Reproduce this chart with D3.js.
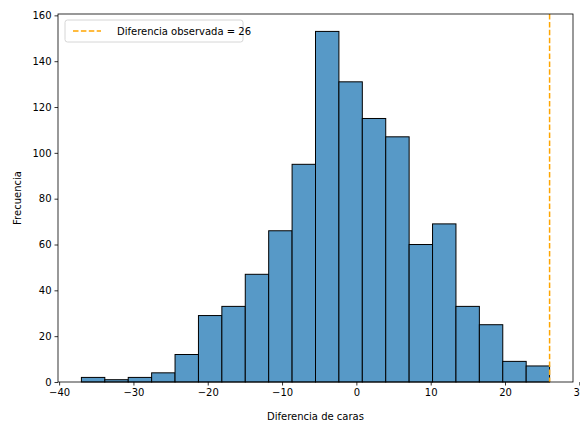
<!DOCTYPE html>
<html>
<head>
<meta charset="utf-8">
<script src="https://cdn.jsdelivr.net/npm/d3@7"></script>
<style>
body { margin: 0; background: #fff; }
text { font-family: "DejaVu Sans", sans-serif; }
</style>
</head>
<body>
<svg width="580" height="436"></svg>
<script>
// histogram of simulated differences
var binStart = -37, binEnd = 26;
var counts = [2, 1, 2, 4, 12, 29, 33, 47, 66, 95, 153, 131, 115, 107, 60, 69, 33, 25, 9, 7];
var observed = 26;
var xTicks = [-40, -30, -20, -10, 0, 10, 20, 30];
var yTicks = [0, 20, 40, 60, 80, 100, 120, 140, 160];

var plotLeft = 58, plotRight = 573, plotTop = 14, plotBottom = 382;
var svg = d3.select("svg");
var binWidth = (binEnd - binStart) / counts.length;

var x = d3.scaleLinear().domain([-40.15, 29.15]).range([plotLeft, plotRight]);
var y = d3.scaleLinear().domain([0, 160.6]).range([plotBottom, plotTop]);

// bars
svg.selectAll("rect.bar")
	.data(counts)
	.enter()
	.append("rect")
	.attr("class", "bar")
	.attr("x", function(d, i) { return x(binStart + i * binWidth); })
	.attr("y", function(d) { return y(d); })
	.attr("width", function() { return x(binWidth) - x(0); })
	.attr("height", function(d) { return y(0) - y(d); })
	.attr("fill", "#5799c7")
	.attr("stroke", "#000")
	.attr("stroke-width", 1);

// observed difference line
svg.append("line")
	.attr("x1", x(observed)).attr("x2", x(observed))
	.attr("y1", plotTop).attr("y2", plotBottom)
	.attr("stroke", "orange")
	.attr("stroke-width", 1.5)
	.attr("stroke-dasharray", "5.5,2.4");

// frame
svg.append("rect")
	.attr("x", plotLeft).attr("y", plotTop)
	.attr("width", plotRight - plotLeft).attr("height", plotBottom - plotTop)
	.attr("fill", "none").attr("stroke", "#000").attr("stroke-width", 0.8);

// axes
var xAxis = svg.append("g")
	.attr("transform", "translate(0," + plotBottom + ")")
	.call(d3.axisBottom(x).tickValues(xTicks).tickSize(3.5).tickPadding(3)
		.tickFormat(function(d) { return d < 0 ? "\u2212" + Math.abs(d) : d; }));
var yAxis = svg.append("g")
	.attr("transform", "translate(" + plotLeft + ",0)")
	.call(d3.axisLeft(y).tickValues(yTicks).tickSize(3.5).tickPadding(3));
[xAxis, yAxis].forEach(function(g) {
	g.select(".domain").remove();
	g.selectAll("text").attr("font-size", 10).attr("fill", "#000")
		.style("font-family", "DejaVu Sans");
	g.selectAll("line").attr("stroke", "#000").attr("stroke-width", 0.8);
});

svg.append("text")
	.attr("x", (plotLeft + plotRight) / 2).attr("y", 420)
	.attr("text-anchor", "middle").attr("font-size", 10)
	.text("Diferencia de caras");
svg.append("text")
	.attr("transform", "translate(21," + (plotTop + plotBottom) / 2 + ") rotate(-90)")
	.attr("text-anchor", "middle").attr("font-size", 10)
	.text("Frecuencia");

// legend
var legend = svg.append("g").attr("transform", "translate(65,20)");
legend.append("rect")
	.attr("width", 178).attr("height", 22).attr("rx", 2.5)
	.attr("fill", "#fff").attr("fill-opacity", 0.8)
	.attr("stroke", "#ccc").attr("stroke-width", 0.8);
legend.append("line")
	.attr("x1", 8).attr("x2", 36).attr("y1", 11).attr("y2", 11)
	.attr("stroke", "orange").attr("stroke-width", 1.5)
	.attr("stroke-dasharray", "5.5,2.4");
legend.append("text")
	.attr("x", 52).attr("y", 15).attr("font-size", 10)
	.text("Diferencia observada = " + observed);
</script>
</body>
</html>
